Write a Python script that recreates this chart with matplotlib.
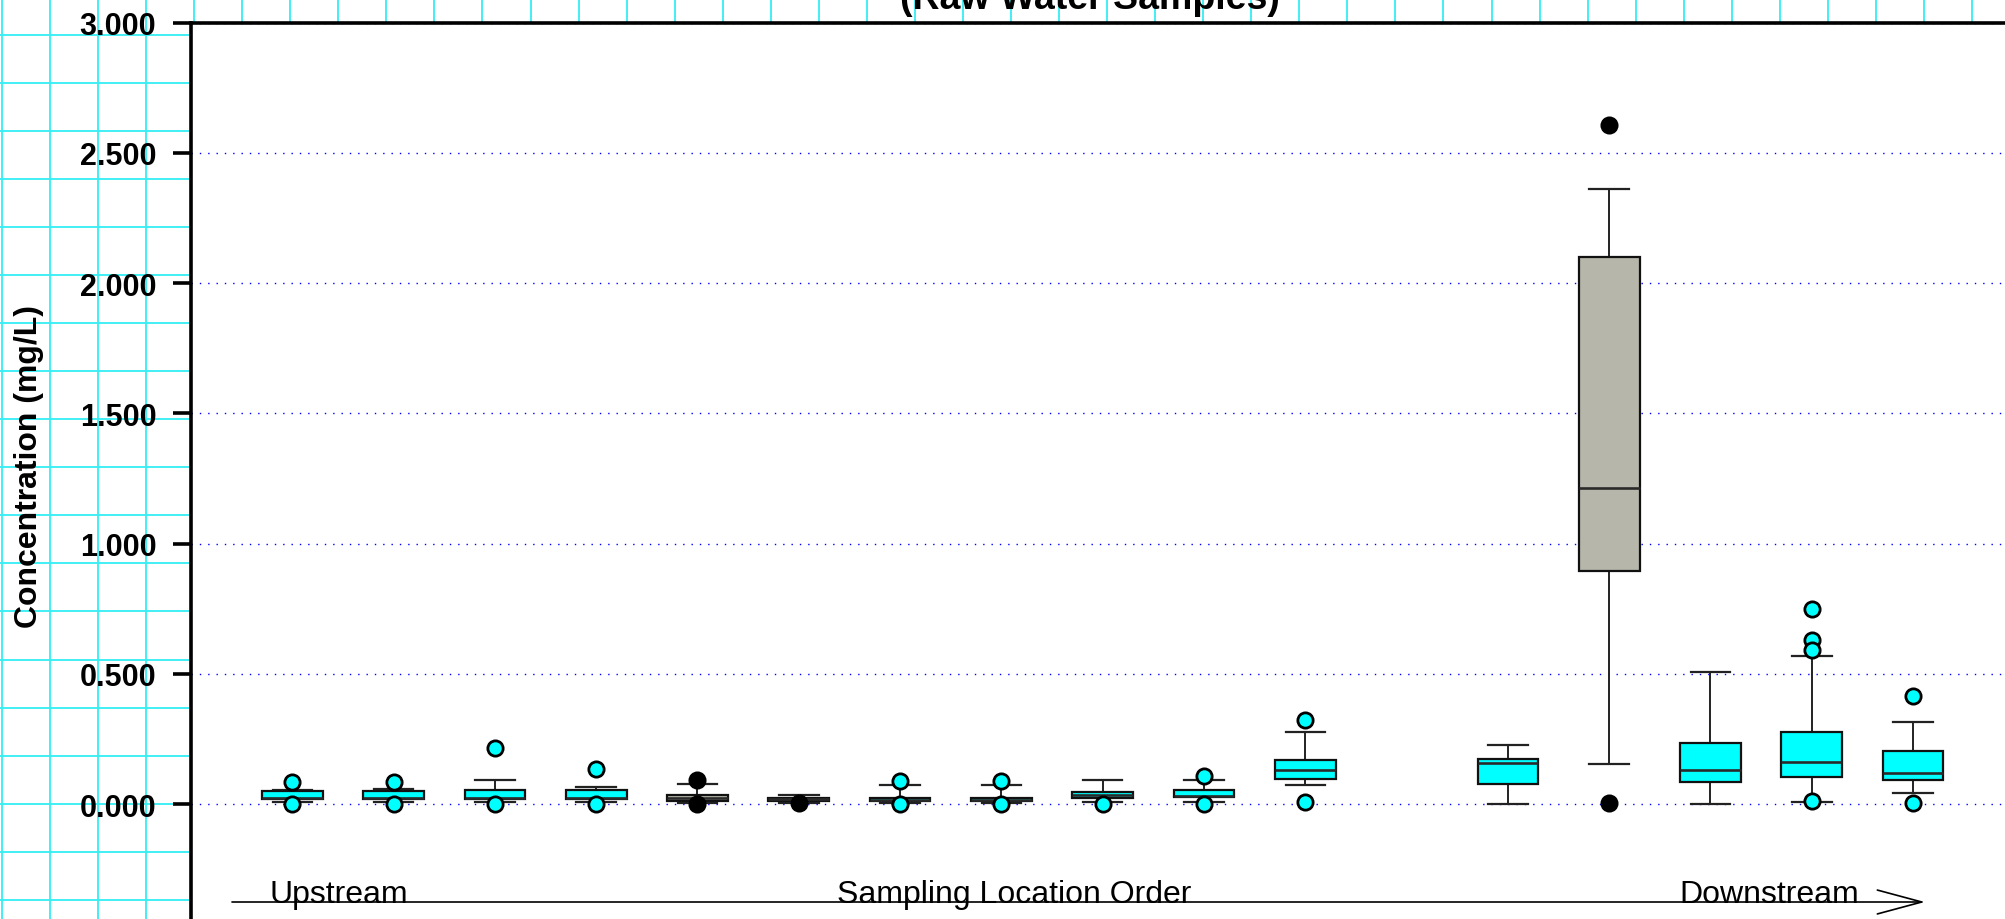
import numpy as np
import matplotlib
matplotlib.use("Agg")
import matplotlib.pyplot as plt

plt.rcParams['font.family'] = ['Liberation Sans', 'DejaVu Sans']

# ---------------- data ----------------
positions = [1, 2, 3, 4, 5, 6, 7, 8, 9, 10, 11, 13, 14, 15, 16, 17]
q1 =           [0.020, 0.020, 0.022, 0.022, 0.013, 0.013, 0.013, 0.013, 0.023, 0.027, 0.097, 0.077, 0.894, 0.087, 0.106, 0.094]
medians =      [0.024, 0.024, 0.026, 0.026, 0.025, 0.019, 0.016, 0.016, 0.035, 0.032, 0.133, 0.159, 1.213, 0.132, 0.163, 0.122]
q3 =           [0.052, 0.052, 0.053, 0.053, 0.037, 0.025, 0.025, 0.025, 0.049, 0.053, 0.170, 0.175, 2.100, 0.236, 0.279, 0.205]
whisker_low =  [0.009, 0.009, 0.009, 0.009, 0.005, 0.006, 0.005, 0.005, 0.009, 0.009, 0.073, 0.003, 0.156, 0.003, 0.009, 0.042]
whisker_high = [0.056, 0.057, 0.092, 0.067, 0.077, 0.035, 0.073, 0.073, 0.092, 0.092, 0.279, 0.229, 2.363, 0.509, 0.568, 0.317]
outliers = [
    [0.086, 0.003],
    [0.086, 0.003],
    [0.216, 0.003],
    [0.134, 0.003],
    [0.092, 0.002],
    [0.004],
    [0.090, 0.002],
    [0.090, 0.002],
    [0.003],
    [0.109, 0.003],
    [0.325, 0.007],
    [],
    [2.605, 0.006],
    [],
    [0.751, 0.629, 0.591, 0.012],
    [0.414, 0.006],
]
gray_box = [False, False, False, False, True, True, False, False, False, False,
            False, False, True, False, False, False]

y_ticks = [0.0, 0.5, 1.0, 1.5, 2.0, 2.5, 3.0]
y_label = "Concentration (mg/L)"
title = "(Raw Water Samples)"
left_label = "Upstream"
middle_label = "Sampling Location Order"
right_label = "Downstream"

# ---------------- figure ----------------
W, H = 2005, 920
fig = plt.figure(figsize=(W / 100, H / 100), dpi=100)
fig.patch.set_facecolor('white')

# graph-paper background
bg = fig.add_axes([0, 0, 1, 1], zorder=0)
bg.set_xlim(0, W)
bg.set_ylim(H, 0)
bg.axis('off')
grid_cyan = '#33EEF2'
for gx in np.arange(2, W, 48.05):
    bg.axvline(gx, color=grid_cyan, lw=1.3)
for gy in np.arange(35.5, H, 48.08):
    bg.axhline(gy, color=grid_cyan, lw=1.3)

# main axes (extends slightly beyond the figure, like the cropped reference)
ymin, ymax = -0.5, 3.0
top_px = 23.5
px_per_unit = 260.6
bottom_px = top_px + (ymax - ymin) * px_per_unit
left_px = 191
xmin, xmax = 0, 18
x_px_per_unit = 101.3
right_px = left_px + (xmax - xmin) * x_px_per_unit
ax = fig.add_axes([left_px / W, 1 - bottom_px / H,
                   (right_px - left_px) / W, (bottom_px - top_px) / H], zorder=1)
ax.set_facecolor('white')
ax.set_xlim(xmin, xmax)
ax.set_ylim(ymin, ymax)

stats = []
for i in range(len(positions)):
    stats.append(dict(med=medians[i], q1=q1[i], q3=q3[i],
                      whislo=whisker_low[i], whishi=whisker_high[i],
                      fliers=outliers[i]))

res = ax.bxp(stats, positions=positions, widths=0.6, capwidths=0.39,
             patch_artist=True, manage_ticks=False,
             boxprops=dict(edgecolor='#111111', linewidth=1.6),
             medianprops=dict(color='#2a2a2a', linewidth=1.9),
             whiskerprops=dict(color='#222222', linewidth=1.4),
             capprops=dict(color='#222222', linewidth=1.6),
             flierprops=dict(marker='o', markersize=11, markeredgewidth=2.0,
                             markeredgecolor='black', markerfacecolor='#00FFFF'))

for i, box in enumerate(res['boxes']):
    box.set_facecolor('#B6B6AA' if gray_box[i] else '#00FFFF')
    box.set_zorder(3)
for i, fl in enumerate(res['fliers']):
    fl.set_markerfacecolor('black' if gray_box[i] else '#00FFFF')
    fl.set_zorder(5)
for m in res['medians']:
    m.set_zorder(4)

# grid
ax.set_yticks(y_ticks)
ax.set_yticklabels([f"{v:.3f}" for v in y_ticks])
ax.set_axisbelow(True)
ax.yaxis.grid(True, color='#0000FF', linewidth=1.0, linestyle=(0, (1, 5)))
ax.set_xticks([])

for s in ['right', 'bottom']:
    ax.spines[s].set_visible(False)
for s in ['left', 'top']:
    ax.spines[s].set_linewidth(2.6)
    ax.spines[s].set_color('black')

ax.tick_params(axis='y', direction='out', length=13, width=2.6, pad=12,
               labelsize=22, colors='black')
for lab in ax.get_yticklabels():
    lab.set_fontweight('bold')

# texts
fig.text(29 / W, 1 - 467 / H, y_label, rotation=90, ha='center', va='center',
         fontsize=23, fontweight='bold')
fig.text(1090 / W, 1 - 8.7 / H, title, ha='center', va='baseline',
         fontsize=27, fontweight='bold')

base_y = 1 - 903 / H
fig.text(270 / W, base_y, left_label, ha='left', va='baseline', fontsize=23)
fig.text(1014 / W, base_y, middle_label, ha='center', va='baseline', fontsize=23)
fig.text(1679 / W, base_y, right_label, ha='left', va='baseline', fontsize=23)

ax.annotate('', xy=(1925 / W, base_y), xytext=(232 / W, base_y),
            xycoords='figure fraction', textcoords='figure fraction',
            arrowprops=dict(arrowstyle='->,head_length=32,head_width=8.6',
                            mutation_scale=1, lw=1.2, color='black',
                            shrinkA=0, shrinkB=0))

fig.savefig('out.png', dpi=100)
